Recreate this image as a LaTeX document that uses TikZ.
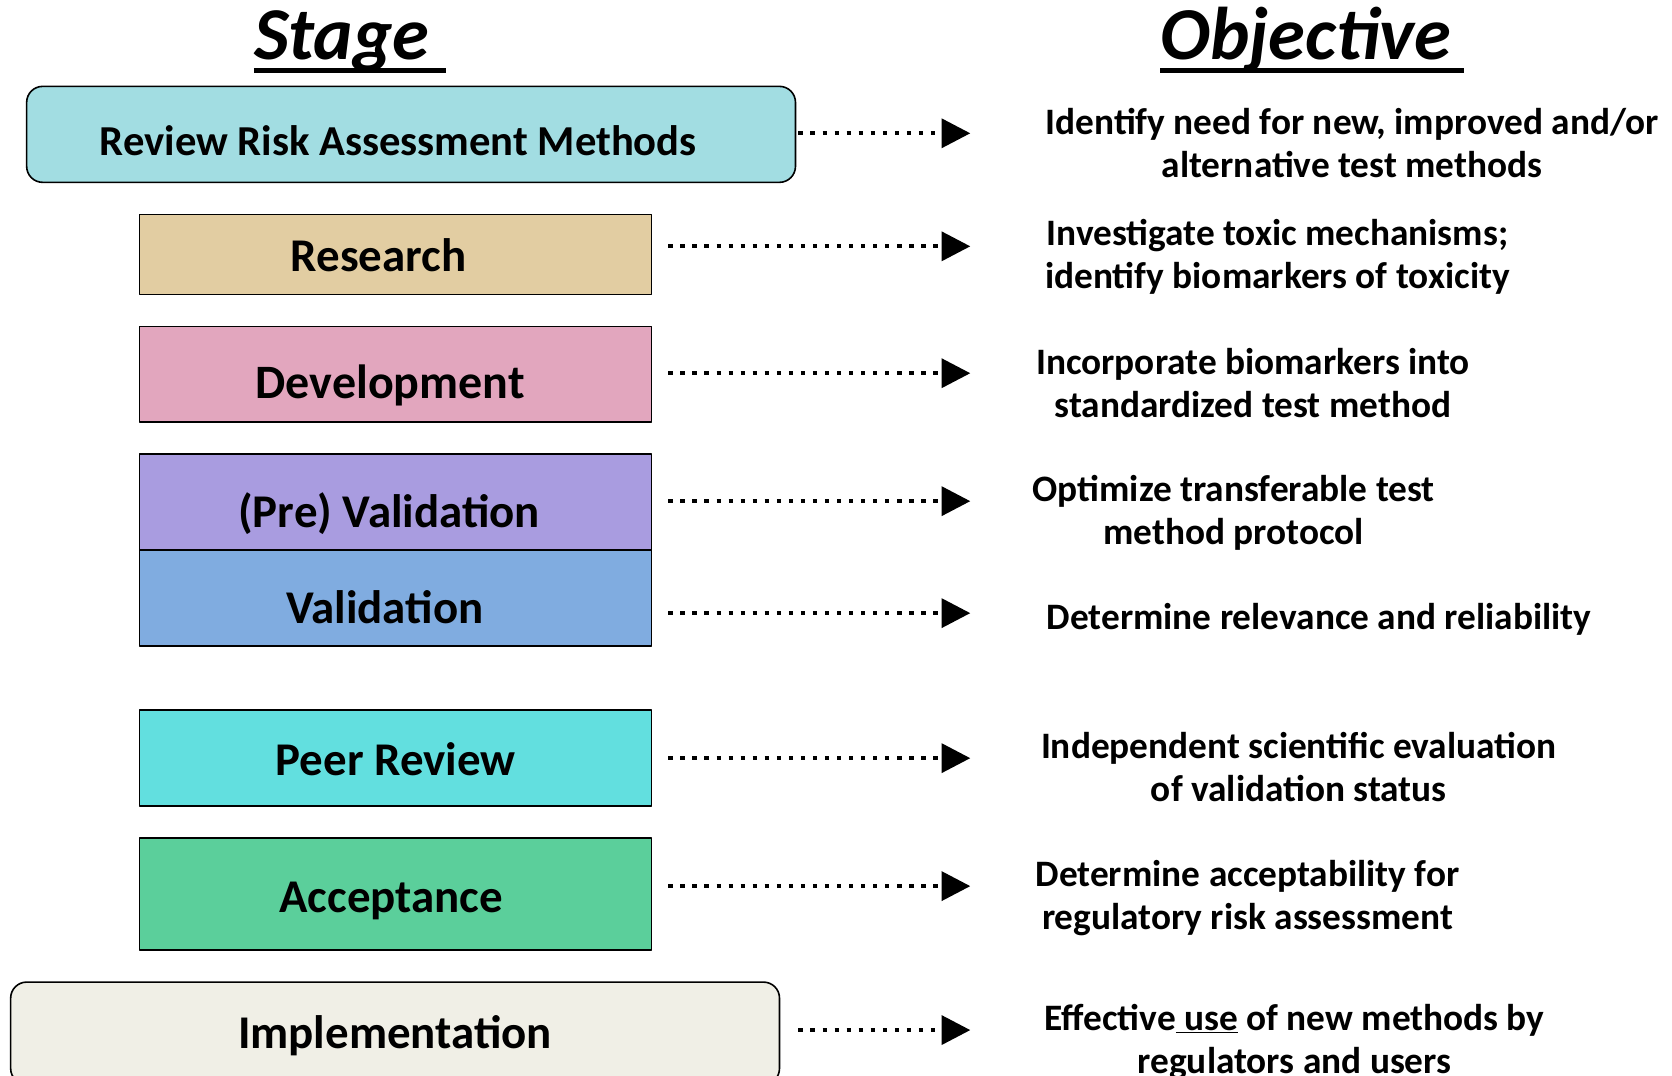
\documentclass[tikz,border=0pt]{standalone}
\usepackage{fontspec}
\setmainfont{Carlito}
\usetikzlibrary{arrows.meta}
\definecolor{cReview}{HTML}{A2DDE2}
\definecolor{cResearch}{HTML}{E2CDA2}
\definecolor{cDevel}{HTML}{E2A6BE}
\definecolor{cPreVal}{HTML}{A99CE0}
\definecolor{cVal}{HTML}{80ACE0}
\definecolor{cPeer}{HTML}{62DFDF}
\definecolor{cAccept}{HTML}{5BCF9B}
\definecolor{cImpl}{HTML}{F0EFE6}
\tikzset{
  stagebox/.style={draw,line width=1.5pt,minimum width=480pt,minimum height=90pt,inner sep=0pt,
    font=\fontsize{44}{50}\selectfont\bfseries,text depth=0pt},
  roundbox/.style={stagebox,minimum width=721pt,rounded corners=15pt},
  lift/.style={text height=#1},
  objtext/.style={align=center,inner sep=0pt,font=\fontsize{35}{40}\selectfont\bfseries},
  headtext/.style={inner sep=0pt,anchor=base west,font=\fontsize{70}{80}\selectfont\bfseries\itshape},
  dotarrow/.style={line width=4pt,dash pattern=on 4pt off 7.3pt,-{Triangle[length=27pt,width=27pt]}}
}
\begin{document}
\begin{tikzpicture}[x=1pt,y=-1pt,line join=round]
\path[fill=white,use as bounding box] (0,0) rectangle (1568,1009);
% headings
\node[headtext] (stage) at (238,56) {Stage};
\node[headtext] (objective) at (1088,56) {Objective};
\draw[line width=4pt] ([yshift=-10pt]stage.base west) -- ++(180,0);
\draw[line width=4pt] ([yshift=-10pt]objective.base west) -- ++(285,0);
% stages
\node[roundbox,fill=cReview,lift=40pt,font=\fontsize{40}{46}\selectfont\bfseries] (review) at (385.5,126) {\hspace*{-24pt}Review Risk Assessment Methods};
\node[stagebox,fill=cResearch,lift=33pt,minimum height=75pt] (research) at (371,238.5) {\hspace*{-32pt}Research};
\node[stagebox,fill=cDevel,lift=46pt,font=\fontsize{45}{50}\selectfont\bfseries] (devel) at (371,351) {\hspace*{-10pt}Development};
\node[stagebox,fill=cPreVal,lift=48pt] (preval) at (371,471) {\hspace*{-12pt}(Pre) Validation};
\node[stagebox,fill=cVal,lift=48pt] (val) at (371,561) {\hspace*{-20pt}Validation};
\node[stagebox,fill=cPeer,lift=32pt] (peer) at (371,711) {Peer Review};
\node[stagebox,fill=cAccept,lift=35pt,minimum height=105pt] (accept) at (371,838.5) {\hspace*{-8pt}Acceptance};
\node[roundbox,fill=cImpl,lift=28pt,minimum height=96pt] (impl) at (370.5,969) {Implementation};
% objectives
\node[objtext] (obj1) at (1268,134) {Identify need for new, improved and/or\\alternative test methods};
\node[objtext] (obj2) at (1198,241) {Investigate toxic mechanisms;\\identify biomarkers of toxicity};
\node[objtext] (obj3) at (1175,359) {Incorporate biomarkers into\\standardized test method};
\node[objtext] (obj4) at (1157,481) {Optimize transferable test\\method protocol};
\node[objtext] (obj5) at (1237,581) {Determine relevance and reliability};
\node[objtext] (obj6) at (1218,719) {Independent scientific evaluation\\of validation status};
\node[objtext] (obj7) at (1170,842) {Determine acceptability for\\regulatory risk assessment};
\node[objtext] (obj8) at (1214,977) {Effective\underline{\ use} of new methods by\\regulators and users};
% arrow ends
\coordinate (a1) at (910,125);
\coordinate (a2) at (910,231);
\coordinate (a3) at (910,350);
\coordinate (a4) at (910,470);
\coordinate (a5) at (910,575);
\coordinate (a6) at (910,711);
\coordinate (a7) at (910,831);
\coordinate (a8) at (910,966);
\draw[dotarrow,shorten <=2pt] (review.east |- a1) -- (a1);
\draw[dotarrow,shorten <=15pt] (research.east |- a2) -- (a2);
\draw[dotarrow,shorten <=15pt] (devel.east |- a3) -- (a3);
\draw[dotarrow,shorten <=15pt] (preval.east |- a4) -- (a4);
\draw[dotarrow,shorten <=15pt] (val.east |- a5) -- (a5);
\draw[dotarrow,shorten <=15pt] (peer.east |- a6) -- (a6);
\draw[dotarrow,shorten <=15pt] (accept.east |- a7) -- (a7);
\draw[dotarrow,shorten <=17pt] (impl.east |- a8) -- (a8);
\end{tikzpicture}
\end{document}
